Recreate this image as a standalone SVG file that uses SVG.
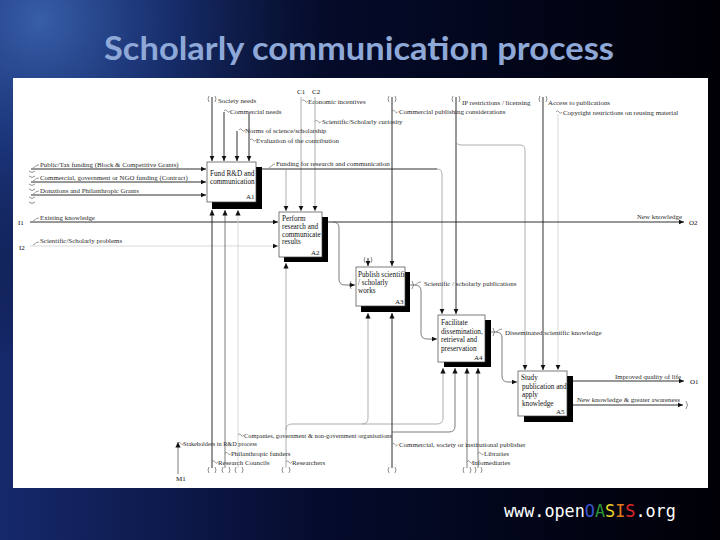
<svg xmlns="http://www.w3.org/2000/svg" width="720" height="540" viewBox="0 0 720 540">
<defs>
  <linearGradient id="bgL" x1="0" y1="0" x2="1" y2="0">
    <stop offset="0" stop-color="#16296c"/>
    <stop offset="0.45" stop-color="#050b2c"/>
    <stop offset="1" stop-color="#000006"/>
  </linearGradient>
  <radialGradient id="bgR" cx="40" cy="20" r="340" gradientUnits="userSpaceOnUse">
    <stop offset="0" stop-color="#3a62ac" stop-opacity="0.95"/>
    <stop offset="0.4" stop-color="#1d3a80" stop-opacity="0.6"/>
    <stop offset="1" stop-color="#000000" stop-opacity="0"/>
  </radialGradient>
  <marker id="ar" markerWidth="6" markerHeight="6" refX="5.5" refY="3" orient="auto" markerUnits="userSpaceOnUse">
    <path d="M0,0.4 L5.5,3 L0,5.6 Z" fill="#111"/>
  </marker>
</defs>
<style>
  .title{font-family:Lato,"Liberation Sans",sans-serif;font-weight:bold;font-size:32px;fill:#8ea8d8}
  .box{fill:#fff;stroke:#444;stroke-width:0.7}
  .sh{fill:#000}
  .bt{font-family:"Liberation Serif",serif;font-size:7.2px;fill:#111}
  .id{font-family:"Liberation Serif",serif;font-size:7px;fill:#111}
  .lb{font-family:"Liberation Serif",serif;font-size:6.9px;fill:#2a2a2a}
  .ln{fill:none;stroke:#1a1a1a;stroke-width:0.9}
  .lm{fill:none;stroke:#5a5a5a;stroke-width:0.8}
  .lg{fill:none;stroke:#9a9a9a;stroke-width:0.8}
  .ll{fill:none;stroke:#cfcfcf;stroke-width:0.8}
  .tn{fill:none;stroke:#444;stroke-width:0.6}
  .ld{fill:none;stroke:#555;stroke-width:0.6}
  .url{font-family:"DejaVu Sans Mono",monospace;font-size:16.8px}
</style>

<g id="background">
  <rect x="0" y="0" width="720" height="540" fill="url(#bgL)"/>
  <rect x="0" y="0" width="720" height="540" fill="url(#bgR)"/>
</g>
<g id="title">
  <text class="title" x="104" y="60" textLength="510" lengthAdjust="spacingAndGlyphs">Scholarly communication process</text>
</g>
<g id="panel">
  <rect x="13" y="78" width="695" height="410" fill="#fff"/>
</g>

<g id="connectors">
  <!-- controls from top -->
  <path class="ln" d="M212,97 V161" marker-end="url(#ar)"/>
  <path class="ln" d="M224,112 V161" marker-end="url(#ar)"/>
  <path class="ln" d="M237,131 V161" marker-end="url(#ar)"/>
  <path class="ln" d="M249,114 V161" marker-end="url(#ar)"/>
  <path class="lg" d="M301,97 V211" marker-end="url(#ar)"/>
  <path class="lg" d="M315,97 V211" marker-end="url(#ar)"/>
  <path class="ln" d="M392,97 V266" marker-end="url(#ar)"/>
  <path class="ln" d="M456,97 V314" marker-end="url(#ar)"/>
  <path class="lg" d="M456,140 Q456,145 461,145 H520 Q525,145 525,150 V370" marker-end="url(#ar)"/>
  <path class="ln" d="M543,97 V370" marker-end="url(#ar)"/>
  <path class="ll" d="M558,114 V370" marker-end="url(#ar)"/>
  <!-- funding output of A1 -->
  <path class="ln" d="M262,169 H437"/>
  <path class="lg" d="M437,169 Q442,169 442,174 V314" marker-end="url(#ar)"/>
  <path class="lg" d="M286,169 V211" marker-end="url(#ar)"/>
  <path class="ln" d="M368,258 V266" marker-end="url(#ar)"/>
  <!-- inputs -->
  <path class="ln" d="M31,169 H206" marker-end="url(#ar)"/>
  <path class="ln" d="M31,182 H206" marker-end="url(#ar)"/>
  <path class="ln" d="M31,195 H206" marker-end="url(#ar)"/>
  <path class="ln" d="M30,222 H278" marker-end="url(#ar)"/>
  <path class="ll" d="M30,246 H278" marker-end="url(#ar)"/>
  <!-- outputs -->
  <path class="ln" d="M328,222 H684" marker-end="url(#ar)"/>
  <path class="lm" d="M333,222 Q339,222 339,228 V279 Q339,285 345,285 H355" marker-end="url(#ar)"/>
  <path class="lm" d="M410,285 H415 Q421,285 421,291 V333 Q421,339 427,339 H437" marker-end="url(#ar)"/>
  <path class="lm" d="M491,332 H496 Q502,332 502,338 V376 Q502,382 508,382 H517" marker-end="url(#ar)"/>
  <path class="ln" d="M573,381 H684" marker-end="url(#ar)"/>
  <path class="ln" d="M573,405 H683" marker-end="url(#ar)"/>
  <!-- mechanisms -->
  <path class="ln" d="M212,468 V210" marker-end="url(#ar)"/>
  <path class="lm" d="M225,468 V210" marker-end="url(#ar)"/>
  <path class="ll" d="M238,468 V210" marker-end="url(#ar)"/>
  <path class="lm" d="M178,474 V442" marker-end="url(#ar)"/>
  <path class="lg" d="M286,468 V263" marker-end="url(#ar)"/>
  <path class="lg" d="M286,430 Q286,424 292,424 H437 Q443,424 443,418 V368" marker-end="url(#ar)"/>
  <path class="lg" d="M362,424 Q368,424 368,418 V313" marker-end="url(#ar)"/>
  <path class="ln" d="M392,468 V313" marker-end="url(#ar)"/>
  <path class="lm" d="M392,432 H449 Q455,432 455,426 V368" marker-end="url(#ar)"/>
  <path class="lm" d="M467,468 V368" marker-end="url(#ar)"/>
  <path class="lm" d="M478,468 V368" marker-end="url(#ar)"/>
  <!-- tunnel symbols -->
  <path class="tn" d="M209,96 q-2,3 0,6 M215,96 q2,3 0,6 M389,96 q-2,3 0,6 M395,96 q2,3 0,6 M453,96 q-2,3 0,6 M459,96 q2,3 0,6 M540,96 q-2,3 0,6 M546,96 q2,3 0,6"/>
  <path class="tn" d="M365,257 q-2,3 0,6 M371,257 q2,3 0,6"/>
  <path class="tn" d="M29,171 q3,3 6,0 M29,176 q3,3 6,0 M29,184 q3,3 6,0 M29,189 q3,3 6,0 M29,197 q3,3 6,0 M29,202 q3,3 6,0"/>
  <path class="tn" d="M351,281 q-3,4 0,8 M412,281 q3,4 0,8 M493,328 q3,4 0,8 M686,401 q3,4 0,8"/>
  <path class="tn" d="M209,467 q-2,3 0,6 M215,467 q2,3 0,6 M223,467 q-2,3 0,6 M229,467 q2,3 0,6 M236,467 q-2,3 0,6 M242,467 q2,3 0,6 M283,467 q-2,3 0,6 M289,467 q2,3 0,6 M389,467 q-2,3 0,6 M395,467 q2,3 0,6 M464,467 q-2,3 0,6 M470,467 q2,3 0,6 M475,467 q2,3 0,6 M481,467 q2,3 0,6"/>
  <!-- label leaders -->
  <path class="ld" d="M224,111 c1,-1.5 2,-1.5 3,0 s2,1.5 3,0 M239,130 c1,-1.5 2,-1.5 3,0 s2,1.5 3,0 M250,140 c1,-1.5 2,-1.5 3,0 s2,1.5 3,0 M302,101 c1,-1.5 2,-1.5 3,0 s2,1.5 3,0 M315,121.5 c1,-1.5 2,-1.5 3,0 s2,1.5 3,0 M392,111.5 c1,-1.5 2,-1.5 3,0 s2,1.5 3,0 M556,112 c1,-1.5 2,-1.5 3,0 s2,1.5 3,0 M269,168 c2,-1 3,-4 6,-4 M33,168 c2,-1 3,-3 6,-3 M33,181 c2,-1 3,-3 6,-3 M33,194 c2,-1 3,-3 6,-3 M33,221 c2,-1 3,-3 6,-3 M33,245 c2,-1 3,-3 6,-3 M415,285 c2,-1 3,-3 6,-3 M496,332 c2,-1 3,-3 6,-3 M238,435 c1,-1.5 2,-1.5 3,0 s2,1.5 3,0 M178,443.5 c1,-1.5 2,-1.5 3,0 s2,1.5 3,0 M392,444.5 c1,-1.5 2,-1.5 3,0 s2,1.5 3,0 M225,453.5 c1,-1.5 2,-1.5 3,0 s2,1.5 3,0 M478,453.5 c1,-1.5 2,-1.5 3,0 s2,1.5 3,0 M212,462 c1,-1.5 2,-1.5 3,0 s2,1.5 3,0 M286,462 c1,-1.5 2,-1.5 3,0 s2,1.5 3,0 M467,462 c1,-1.5 2,-1.5 3,0 s2,1.5 3,0"/>
</g>

<g id="A1">
  <rect class="sh" x="212" y="167" width="50" height="42"/>
  <rect class="box" x="207" y="162" width="49" height="40"/>
  <text class="bt" x="210" y="176">Fund R&amp;D and</text>
  <text class="bt" x="210" y="184">communication</text>
  <text class="id" x="246" y="199">A1</text>
</g>
<g id="A2">
  <rect class="sh" x="284" y="217" width="44" height="45"/>
  <rect class="box" x="279" y="212" width="43" height="45"/>
  <text class="bt" x="282" y="221">Perform</text>
  <text class="bt" x="282" y="229">research and</text>
  <text class="bt" x="282" y="236.5">communicate</text>
  <text class="bt" x="282" y="244">results</text>
  <text class="id" x="311" y="255">A2</text>
</g>
<g id="A3">
  <rect class="sh" x="361" y="272" width="49" height="40"/>
  <rect class="box" x="356" y="267" width="49" height="39"/>
  <text class="bt" x="358" y="277">Publish scientific</text>
  <text class="bt" x="358" y="285">/ scholarly</text>
  <text class="bt" x="358" y="293">works</text>
  <text class="id" x="395" y="304">A3</text>
</g>
<g id="A4">
  <rect class="sh" x="444" y="320" width="47" height="47"/>
  <rect class="box" x="438" y="315" width="47" height="47"/>
  <text class="bt" x="441" y="325">Facilitate</text>
  <text class="bt" x="441" y="333.5">dissemination,</text>
  <text class="bt" x="441" y="342">retrieval and</text>
  <text class="bt" x="441" y="350.5">preservation</text>
  <text class="id" x="474" y="359.5">A4</text>
</g>
<g id="A5">
  <rect class="sh" x="524" y="376" width="49" height="46"/>
  <rect class="box" x="518" y="371" width="49" height="45"/>
  <text class="bt" x="521" y="380">Study</text>
  <text class="bt" x="522" y="389">publication and</text>
  <text class="bt" x="522" y="397">apply</text>
  <text class="bt" x="522" y="406">knowledge</text>
  <text class="id" x="556" y="414">A5</text>
</g>

<g id="labels">
  <text class="id" x="297" y="94">C1</text>
  <text class="id" x="312" y="94">C2</text>
  <text class="lb" x="218" y="103">Society needs</text>
  <text class="lb" x="230" y="113.5">Commercial needs</text>
  <text class="lb" x="245" y="132.5">Norms of science/scholarship</text>
  <text class="lb" x="256" y="142.5">Evaluation of the contribution</text>
  <text class="lb" x="308" y="103.5">Economic incentives</text>
  <text class="lb" x="322" y="124">Scientific/Scholarly curiosity</text>
  <text class="lb" x="399" y="114">Commercial publishing considerations</text>
  <text class="lb" x="462" y="104.5">IP restrictions / licensing</text>
  <text class="lb" x="548" y="104.5">Access to publications</text>
  <text class="lb" x="563" y="114.5">Copyright restrictions on reusing material</text>
  <text class="lb" x="276" y="166">Funding for research and communication</text>
  <text class="lb" x="40" y="166.5">Public/Tax funding (Block &amp; Competitive Grants)</text>
  <text class="lb" x="40" y="180">Commercial, government or NGO funding (Contract)</text>
  <text class="lb" x="40" y="193">Donations and Philanthropic Grants</text>
  <text class="id" x="18" y="224.5">I1</text>
  <text class="lb" x="40" y="219.5">Existing knowledge</text>
  <text class="id" x="19" y="249.5">I2</text>
  <text class="lb" x="40" y="243">Scientific/Scholarly problems</text>
  <text class="lb" x="637" y="219">New knowledge</text>
  <text class="id" x="689" y="225">O2</text>
  <text class="lb" x="424" y="285.5">Scientific / scholarly publications</text>
  <text class="lb" x="505" y="335">Disseminated scientific knowledge</text>
  <text class="lb" x="615" y="379">Improved quality of life</text>
  <text class="id" x="690" y="384">O1</text>
  <text class="lb" x="577" y="401.5">New knowledge &amp; greater awareness</text>
  <text class="lb" x="244" y="437.5" textLength="148" lengthAdjust="spacingAndGlyphs">Companies, government &amp; non-government organisations</text>
  <text class="lb" x="183" y="446" textLength="74" lengthAdjust="spacingAndGlyphs">Stakeholders in R&amp;D process</text>
  <text class="lb" x="399" y="447">Commercial, society or institutional publisher</text>
  <text class="lb" x="231" y="456">Philanthropic funders</text>
  <text class="lb" x="484" y="456">Libraries</text>
  <text class="lb" x="218" y="464.5">Research Councils</text>
  <text class="lb" x="292" y="464.5">Researchers</text>
  <text class="lb" x="472" y="464.5">Infomediaries</text>
  <text class="id" x="176" y="481">M1</text>
</g>

<g id="footer">
  <text class="url" x="504" y="517"><tspan fill="#ffffff">www.open</tspan><tspan fill="#3a55d0">O</tspan><tspan fill="#2f9a3a">A</tspan><tspan fill="#e8d428">S</tspan><tspan fill="#e87a1e">I</tspan><tspan fill="#e02828">S</tspan><tspan fill="#ffffff">.org</tspan></text>
</g>
</svg>
